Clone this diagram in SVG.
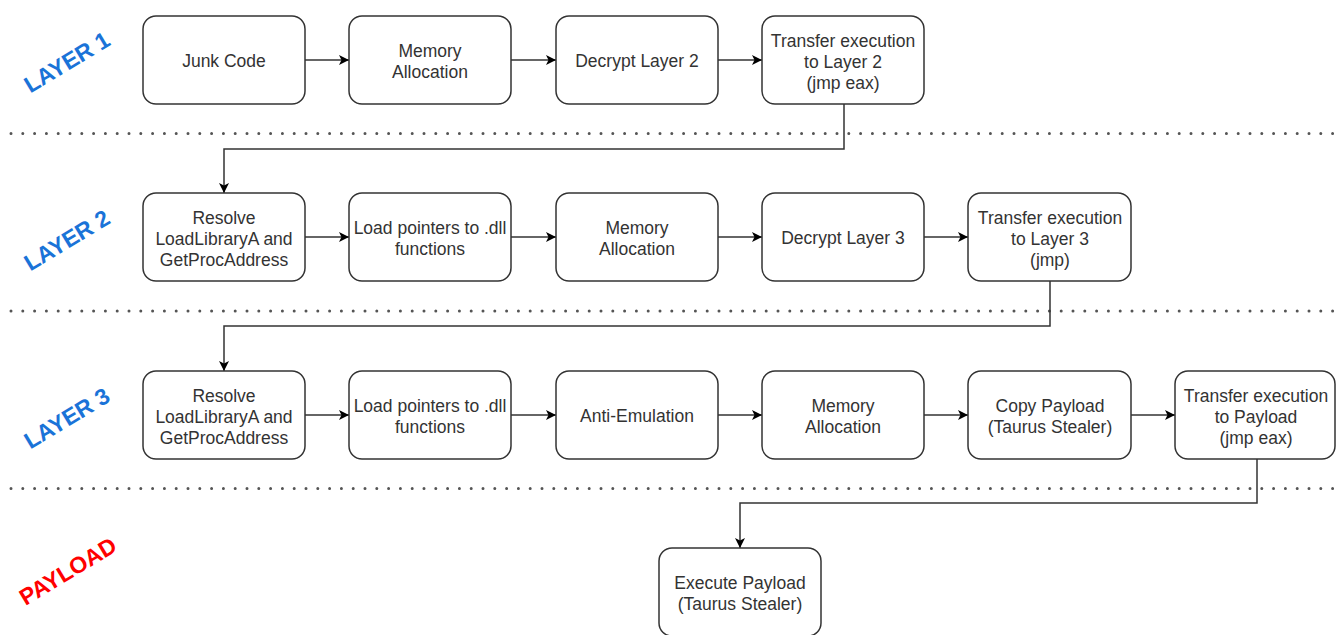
<svg xmlns="http://www.w3.org/2000/svg" width="1336" height="635" viewBox="0 0 1336 635">
<style>
.box{fill:#fff;stroke:#333;stroke-width:1.5}
.t{font-family:"Liberation Sans",Arial,sans-serif;font-size:17.5px;fill:#333;text-anchor:middle}
.lbl{font-family:"Liberation Sans",Arial,sans-serif;font-size:23px;font-weight:bold;text-anchor:middle}
.dot{stroke:#555;stroke-width:3;stroke-linecap:round;stroke-dasharray:0 11.8;fill:none}
.c{stroke:#333;stroke-width:1.5;fill:none}
</style>
<defs>
<marker id="ah" viewBox="0 0 10 10" refX="10" refY="5" markerWidth="10" markerHeight="10" markerUnits="userSpaceOnUse" orient="auto">
<path d="M0,0 L10,5 L0,10 L2.5,5 Z" fill="#000"/>
</marker>
</defs>
<rect width="1336" height="635" fill="#fff"/>
<g id="separators">
<line class="dot" x1="11" y1="133.5" x2="1336" y2="133.5"/>
<line class="dot" x1="11" y1="311" x2="1336" y2="311"/>
<line class="dot" x1="11" y1="488.5" x2="1336" y2="488.5"/>
</g>
<g id="labels">
<text class="lbl" fill="#1a73d8" transform="translate(71,69) rotate(-31)">LAYER 1</text>
<text class="lbl" fill="#1a73d8" transform="translate(71,247) rotate(-31)">LAYER 2</text>
<text class="lbl" fill="#1a73d8" transform="translate(71,425) rotate(-31)">LAYER 3</text>
<text class="lbl" fill="#ff0000" transform="translate(72,578) rotate(-31)">PAYLOAD</text>
</g>
<g id="connectors">
<line class="c" x1="305" y1="60" x2="349" y2="60" marker-end="url(#ah)"/>
<line class="c" x1="511" y1="60" x2="556" y2="60" marker-end="url(#ah)"/>
<line class="c" x1="718" y1="60" x2="762" y2="60" marker-end="url(#ah)"/>
<path class="c" d="M844,104 V149 H224 V193" marker-end="url(#ah)"/>
<line class="c" x1="305" y1="237" x2="349" y2="237" marker-end="url(#ah)"/>
<line class="c" x1="511" y1="237" x2="556" y2="237" marker-end="url(#ah)"/>
<line class="c" x1="718" y1="237" x2="762" y2="237" marker-end="url(#ah)"/>
<line class="c" x1="924" y1="237" x2="968" y2="237" marker-end="url(#ah)"/>
<path class="c" d="M1050,281 V326 H224 V371" marker-end="url(#ah)"/>
<line class="c" x1="305" y1="415" x2="349" y2="415" marker-end="url(#ah)"/>
<line class="c" x1="511" y1="415" x2="556" y2="415" marker-end="url(#ah)"/>
<line class="c" x1="718" y1="415" x2="762" y2="415" marker-end="url(#ah)"/>
<line class="c" x1="924" y1="415" x2="968" y2="415" marker-end="url(#ah)"/>
<line class="c" x1="1131" y1="415" x2="1175" y2="415" marker-end="url(#ah)"/>
<path class="c" d="M1257,459 V503 H740 V548" marker-end="url(#ah)"/>
</g>
<g id="n1"><rect class="box" x="143" y="16" width="162" height="88" rx="13"/><text class="t" x="224" y="67">Junk Code</text></g>
<g id="n2"><rect class="box" x="349" y="16" width="162" height="88" rx="13"/><text class="t" x="430" y="57">Memory</text><text class="t" x="430" y="78">Allocation</text></g>
<g id="n3"><rect class="box" x="556" y="16" width="162" height="88" rx="13"/><text class="t" x="637" y="67">Decrypt Layer 2</text></g>
<g id="n4"><rect class="box" x="762" y="16" width="162" height="88" rx="13"/><text class="t" x="843" y="47">Transfer execution</text><text class="t" x="843" y="68">to Layer 2</text><text class="t" x="843" y="89">(jmp eax)</text></g>
<g id="n5"><rect class="box" x="143" y="193" width="162" height="88" rx="13"/><text class="t" x="224" y="224">Resolve</text><text class="t" x="224" y="245">LoadLibraryA and</text><text class="t" x="224" y="266">GetProcAddress</text></g>
<g id="n6"><rect class="box" x="349" y="193" width="162" height="88" rx="13"/><text class="t" x="430" y="234">Load pointers to .dll</text><text class="t" x="430" y="255">functions</text></g>
<g id="n7"><rect class="box" x="556" y="193" width="162" height="88" rx="13"/><text class="t" x="637" y="234">Memory</text><text class="t" x="637" y="255">Allocation</text></g>
<g id="n8"><rect class="box" x="762" y="193" width="162" height="88" rx="13"/><text class="t" x="843" y="244">Decrypt Layer 3</text></g>
<g id="n9"><rect class="box" x="968" y="193" width="163" height="88" rx="13"/><text class="t" x="1050" y="224">Transfer execution</text><text class="t" x="1050" y="245">to Layer 3</text><text class="t" x="1050" y="266">(jmp)</text></g>
<g id="n10"><rect class="box" x="143" y="371" width="162" height="88" rx="13"/><text class="t" x="224" y="402">Resolve</text><text class="t" x="224" y="423">LoadLibraryA and</text><text class="t" x="224" y="444">GetProcAddress</text></g>
<g id="n11"><rect class="box" x="349" y="371" width="162" height="88" rx="13"/><text class="t" x="430" y="412">Load pointers to .dll</text><text class="t" x="430" y="433">functions</text></g>
<g id="n12"><rect class="box" x="556" y="371" width="162" height="88" rx="13"/><text class="t" x="637" y="422">Anti-Emulation</text></g>
<g id="n13"><rect class="box" x="762" y="371" width="162" height="88" rx="13"/><text class="t" x="843" y="412">Memory</text><text class="t" x="843" y="433">Allocation</text></g>
<g id="n14"><rect class="box" x="968" y="371" width="163" height="88" rx="13"/><text class="t" x="1050" y="412">Copy Payload</text><text class="t" x="1050" y="433">(Taurus Stealer)</text></g>
<g id="n15"><rect class="box" x="1175" y="371" width="160" height="88" rx="13"/><text class="t" x="1256" y="402">Transfer execution</text><text class="t" x="1256" y="423">to Payload</text><text class="t" x="1256" y="444">(jmp eax)</text></g>
<g id="n16"><rect class="box" x="659" y="548" width="162" height="88" rx="13"/><text class="t" x="740" y="589">Execute Payload</text><text class="t" x="740" y="610">(Taurus Stealer)</text></g>
</svg>
